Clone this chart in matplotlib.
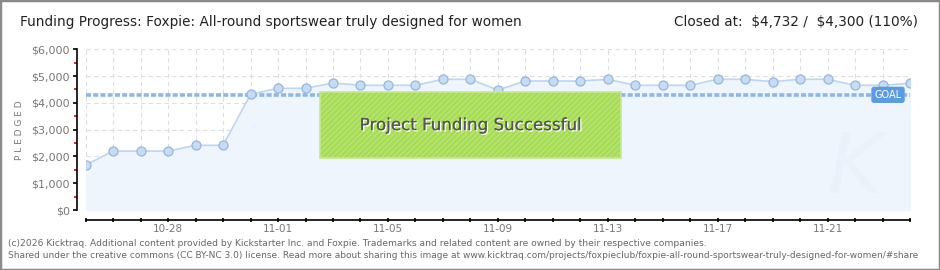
import numpy as np
import pandas as pd
import matplotlib
matplotlib.use("Agg")
import matplotlib.pyplot as plt
import matplotlib.patheffects as pe
from matplotlib.patches import Rectangle
from matplotlib.ticker import MultipleLocator, FuncFormatter

plt.rcParams['font.family'] = ['DejaVu Sans']
plt.rcParams['hatch.color'] = '#9bcf48'
plt.rcParams['hatch.linewidth'] = 0.6

# donnees
days = pd.date_range('2025-10-25', periods=31)
pledged = [1680, 2200, 2200, 2200, 2415, 2415, 4320, 4544, 4544, 4742,
           4656, 4656, 4656, 4880, 4880, 4480, 4816, 4816, 4816, 4880,
           4656, 4656, 4656, 4880, 4880, 4792, 4880, 4880, 4656, 4656, 4732]
goal = 4300
tick_days = ['10-28', '11-01', '11-05', '11-09', '11-13', '11-17', '11-21']

W, H = 940, 270
fig = plt.figure(figsize=(W / 100, H / 100), dpi=100)
fig.patch.set_facecolor('white')
fig.patches.append(Rectangle((0, 0), 1, 1, transform=fig.transFigure,
                             fill=False, ec='#8a8a8a', lw=2.5))

def px(x0, y0, x1, y1):
    return [x0 / W, 1 - y1 / H, (x1 - x0) / W, (y1 - y0) / H]

ax = fig.add_axes(px(85.7, 49.3, 910, 210))
x = np.arange(len(pledged))
labels = days.strftime('%m-%d')

ax.fill_between(x, pledged, 0, color='#eef5fd', zorder=1)
ax.plot(x, pledged, color='#bcd6f2', lw=1.2, zorder=3)
ax.plot(x, pledged, 'o', ms=6.5, mfc='#c4dcf6', mec='#98b6da', mew=0.9, zorder=4)
ax.plot([x[0], x[-1]], [goal, goal], color='#8eb7e6', lw=2.6,
        dashes=(1.4, 0.6), zorder=2)

ax.set_xlim(0, len(pledged) - 1)
ax.set_ylim(0, 6000)
ax.set_xticks(x)
ax.set_xticklabels([l if l in tick_days else '' for l in labels])
ax.yaxis.set_major_locator(MultipleLocator(1000))
ax.yaxis.set_minor_locator(MultipleLocator(500))
ax.yaxis.set_major_formatter(FuncFormatter(lambda v, p: '${:,.0f}'.format(v)))
ax.grid(True, color='#dedede', lw=0.8, dashes=(4, 3), zorder=0)
ax.set_axisbelow(True)

for s in ['top', 'right']:
    ax.spines[s].set_visible(False)
# decalage en points (1 px = 0.72 pt a 100 dpi)
ax.spines['left'].set_position(('outward', 6.3))
ax.spines['bottom'].set_position(('outward', 7.3))
ax.spines['left'].set_linewidth(1.2)
ax.spines['bottom'].set_linewidth(1.2)
ax.tick_params(axis='y', which='major', length=3, width=1.2, colors='black',
               labelcolor='#777777', labelsize=8, pad=2)
ax.tick_params(axis='y', which='minor', length=2, width=1.2, colors='#dd0000')
ax.tick_params(axis='x', length=3, width=1.2, direction='inout',
               labelcolor='#777777', labelsize=7.5, pad=1.5)
fig.text(20 / W, 1 - 130 / H, 'P L E D G E D', fontsize=6.5, color='#777777',
         rotation=90, ha='center', va='center')

# bandeau de reussite
ax.add_patch(Rectangle((8.53, 1941), 10.95, 2464, fc='#a7dc55', ec='#c4e98c',
                       lw=1.2, hatch='//////', zorder=5))
ax.text(14.0, 3170, 'Project Funding Successful', ha='center', va='center',
        fontsize=12, color='#555555', zorder=6,
        path_effects=[pe.withSimplePatchShadow(offset=(1, -1), shadow_rgbFace='white', alpha=1),
                      pe.Normal()])

ax.text(29.2, goal, 'GOAL', ha='center', va='center', fontsize=7, color='white',
        zorder=6, bbox=dict(boxstyle='round,pad=0.25,rounding_size=0.2',
                            fc='#5b9be0', ec='#5b9be0'))
ax.text(28.0, 1500, 'K', ha='center', va='center', fontsize=60, style='italic',
        color='#e8eff8', alpha=0.5, zorder=1)

fig.text(20 / W, 1 - 22 / H, 'Funding Progress: Foxpie: All-round sportswear truly designed for women',
         fontsize=9.8, color='#222222', va='center')
fig.text(918 / W, 1 - 22 / H, r'Closed at:  \$4,732 /  \$4,300 (110%)',
         fontsize=9.8, color='#222222', va='center', ha='right')
fig.text(8 / W, 1 - 243 / H,
         '(c)2026 Kicktraq. Additional content provided by Kickstarter Inc. and Foxpie. '
         'Trademarks and related content are owned by their respective companies.',
         fontsize=6.6, color='#666666', va='center')
fig.text(8 / W, 1 - 256 / H,
         'Shared under the creative commons (CC BY-NC 3.0) license. Read more about sharing this image at '
         'www.kicktraq.com/projects/foxpieclub/foxpie-all-round-sportswear-truly-designed-for-women/#share',
         fontsize=6.5, color='#666666', va='center')

fig.savefig('out.png', dpi=100, facecolor='white')
